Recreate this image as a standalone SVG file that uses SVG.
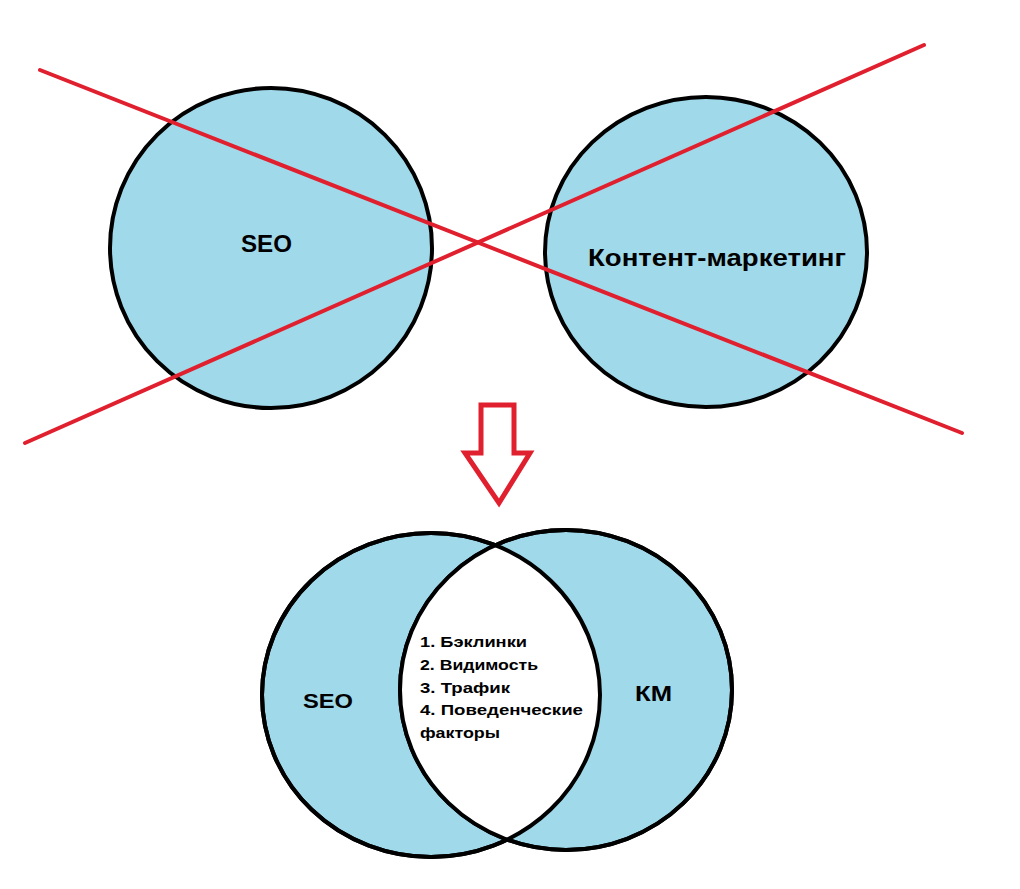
<svg xmlns="http://www.w3.org/2000/svg" width="1020" height="889" viewBox="0 0 1020 889">
<style>
.c{fill:#a0d9ea;stroke:#000;stroke-width:4}
.o{fill:none;stroke:#000;stroke-width:4}
.t{font-family:"Liberation Sans",Arial,sans-serif;font-weight:bold;fill:#000}
.x{stroke:#e0202e;stroke-width:4;stroke-linecap:round}
</style>
<defs>
<clipPath id="clipL"><ellipse cx="431" cy="695" rx="169" ry="162"/></clipPath>
</defs>
<rect width="1020" height="889" fill="#fff"/>
<g id="top-seo"><ellipse class="c" cx="271" cy="248" rx="161" ry="160"/><text class="t" x="241" y="252" font-size="23" textLength="51" lengthAdjust="spacingAndGlyphs">SEO</text></g>
<g id="top-km"><ellipse class="c" cx="706" cy="252" rx="161" ry="155"/><text class="t" x="588" y="266" font-size="24" textLength="258" lengthAdjust="spacingAndGlyphs">Контент-маркетинг</text></g>
<g id="connectors">
<line class="x" x1="40" y1="70" x2="962" y2="433"/>
<line class="x" x1="25" y1="443" x2="924" y2="45"/>
<path d="M481 405 H514 V453 H530 L499 503 L465 453 H481 Z" fill="#fff" stroke="#e0202e" stroke-width="5" stroke-linejoin="miter"/>
</g>
<g id="bottom-seo"><ellipse class="c" cx="431" cy="695" rx="169" ry="162"/></g>
<g id="bottom-km"><ellipse class="c" cx="566" cy="690" rx="166" ry="160"/></g>
<g id="overlap">
<ellipse cx="566" cy="690" rx="166" ry="160" fill="#fff" clip-path="url(#clipL)"/>
<ellipse class="o" cx="431" cy="695" rx="169" ry="162"/>
<ellipse class="o" cx="566" cy="690" rx="166" ry="160"/>
<g class="t" font-size="15">
<text x="420" y="647" textLength="107" lengthAdjust="spacingAndGlyphs">1. Бэклинки</text>
<text x="420" y="670" textLength="118" lengthAdjust="spacingAndGlyphs">2. Видимость</text>
<text x="420" y="693" textLength="90" lengthAdjust="spacingAndGlyphs">3. Трафик</text>
<text x="420" y="715" textLength="163" lengthAdjust="spacingAndGlyphs">4. Поведенческие</text>
<text x="420" y="738" textLength="80" lengthAdjust="spacingAndGlyphs">факторы</text>
</g>
</g>
<g id="label-seo"><text class="t" x="303" y="708" font-size="21" textLength="50" lengthAdjust="spacingAndGlyphs">SEO</text></g>
<g id="label-km"><text class="t" x="635" y="701" font-size="22" textLength="37" lengthAdjust="spacingAndGlyphs">КМ</text></g>
</svg>
